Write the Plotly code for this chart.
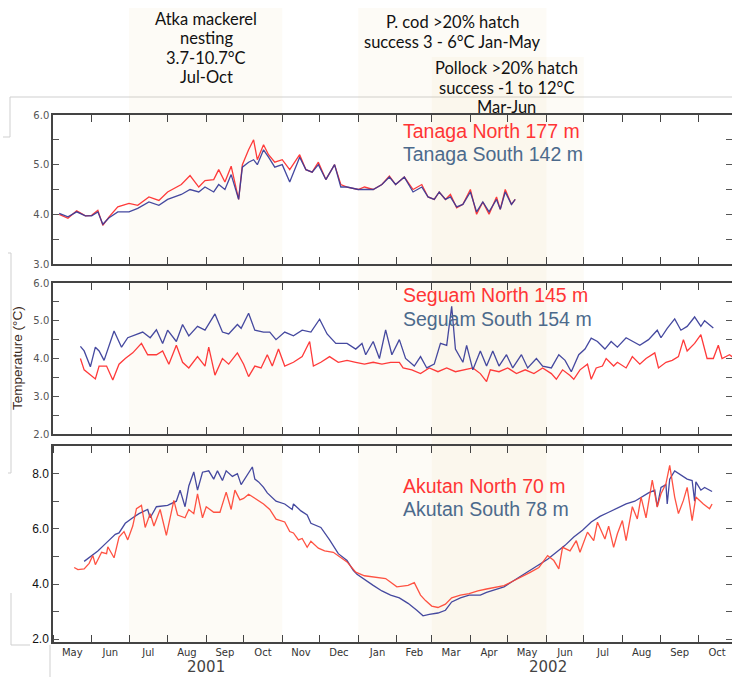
import plotly.graph_objects as go
import pandas as pd

# ---------------- data ----------------
START = "2001-06-01"          # day 0 of the day-offset arrays
X_RANGE = ["2001-05-01", "2002-10-28"]

tanaga_days = [-26, -19, -12, -5, 0, 5, 9, 14, 21, 30, 37, 46, 54, 61, 72, 79, 86, 91, 98, 102,
               107, 112, 118, 121, 126, 130, 133, 138, 142, 147, 153, 159, 167, 172, 177, 182, 188, 195, 200, 205,
               214, 219, 226, 233, 239, 244, 251, 258, 265, 270, 275, 279, 284, 288, 293, 298, 304, 309, 314, 319,
               325, 328, 332, 337, 340]
tanaga_north = [4.0, 3.92, 4.07, 3.97, 3.98, 4.08, 3.78, 3.95, 4.15, 4.22, 4.18, 4.35, 4.28, 4.45, 4.6, 4.78, 4.55, 4.68, 4.7, 4.9,
                4.65, 4.97, 4.3, 5.0, 5.3, 5.5, 5.1, 5.4, 5.2, 5.05, 5.1, 4.9, 5.2, 4.9, 4.85, 5.05, 4.7, 5.0, 4.6, 4.55,
                4.5, 4.55, 4.5, 4.6, 4.77, 4.6, 4.75, 4.5, 4.6, 4.35, 4.3, 4.45, 4.3, 4.4, 4.13, 4.2, 4.5, 4.0, 4.25, 4.0,
                4.35, 4.1, 4.5, 4.2, 4.3]
tanaga_south = [4.02, 3.95, 4.05, 3.97, 3.97, 4.05, 3.8, 3.93, 4.05, 4.05, 4.12, 4.25, 4.18, 4.3, 4.4, 4.5, 4.45, 4.55, 4.45, 4.6,
                4.5, 4.8, 4.3, 4.95, 5.05, 5.1, 5.0, 5.3, 5.15, 4.95, 5.0, 4.65, 5.15, 4.9, 4.85, 5.0, 4.7, 5.0, 4.55, 4.55,
                4.5, 4.5, 4.5, 4.6, 4.75, 4.6, 4.75, 4.45, 4.55, 4.35, 4.3, 4.45, 4.3, 4.35, 4.15, 4.2, 4.45, 4.05, 4.25, 4.05,
                4.3, 4.1, 4.45, 4.2, 4.3]

seguam_north_days = [-9, -6, 3, 6, 12, 17, 22, 27, 33, 40, 45, 52, 57, 62, 68, 73, 78, 85, 91, 94,
                     99, 105, 110, 117, 122, 126, 131, 136, 141, 145, 150, 155, 162, 169, 175, 178, 184, 191, 198, 205,
                     212, 219, 226, 233, 240, 247, 250, 257, 264, 271, 278, 285, 292, 299, 306, 312, 317, 320, 327, 334,
                     341, 348, 355, 362, 369, 373, 378, 384, 387, 392, 398, 401, 405, 410, 413, 419, 422, 429, 434, 440,
                     445, 452, 455, 461, 466, 471, 475, 478, 484, 489, 494, 499, 503, 506, 512, 516]
seguam_north = [4.0, 3.7, 3.46, 3.8, 3.8, 3.43, 3.85, 4.0, 4.15, 4.4, 4.1, 4.1, 4.2, 3.85, 4.35, 3.9, 3.75, 4.05, 3.8, 4.3,
                3.56, 4.0, 3.85, 4.15, 3.85, 3.52, 3.8, 3.75, 4.1, 3.8, 4.25, 3.8, 3.9, 4.05, 4.45, 3.8, 3.9, 4.05, 3.9, 3.95,
                3.9, 3.85, 3.9, 3.85, 3.9, 3.9, 3.75, 3.7, 3.6, 3.75, 3.65, 3.75, 3.65, 3.7, 3.75, 3.6, 3.39, 3.7, 3.65, 3.75,
                3.6, 3.7, 3.6, 3.75, 3.6, 3.45, 3.7, 3.55, 3.45, 3.7, 3.85, 3.45, 3.75, 3.8, 4.0, 3.8, 3.9, 3.75, 4.05, 3.85,
                4.0, 4.15, 3.75, 3.9, 3.95, 4.05, 4.5, 4.2, 4.4, 4.63, 4.0, 4.0, 4.35, 4.0, 4.1, 4.0]

seguam_south_days = [-9, -6, -1, 3, 6, 10, 18, 24, 29, 36, 41, 47, 52, 57, 61, 68, 73, 78, 85, 91,
                     99, 105, 110, 117, 120, 126, 131, 138, 143, 148, 155, 162, 169, 176, 183, 189, 196, 205, 212, 217,
                     220, 226, 231, 236, 241, 247, 252, 259, 264, 269, 275, 280, 285, 289, 292, 298, 301, 306, 312, 317,
                     322, 327, 333, 338, 345, 350, 357, 362, 369, 375, 380, 385, 391, 396, 401, 406, 412, 417, 422, 429,
                     434, 440, 447, 454, 457, 462, 468, 473, 478, 484, 489, 492, 499]
seguam_south = [4.32, 4.2, 3.78, 4.3, 4.2, 3.95, 4.73, 4.3, 4.55, 4.63, 4.7, 4.55, 4.76, 4.4, 4.75, 4.45, 4.9, 4.6, 4.85, 4.75,
                5.18, 4.7, 4.65, 4.9, 4.8, 5.2, 4.75, 4.7, 4.7, 4.5, 4.7, 4.6, 4.75, 4.7, 5.04, 4.65, 4.4, 4.4, 4.25, 4.4,
                4.1, 4.45, 4.0, 4.76, 4.1, 4.5, 4.0, 3.8, 4.05, 3.75, 3.85, 4.4, 4.35, 5.38, 4.25, 3.9, 4.35, 3.7, 4.2, 3.8,
                4.2, 3.8, 4.1, 3.75, 4.1, 3.75, 4.0, 3.8, 3.75, 4.1, 3.95, 3.65, 4.1, 4.25, 4.54, 4.45, 4.25, 4.45, 4.3, 4.55,
                4.45, 4.35, 4.5, 4.75, 4.55, 4.8, 5.05, 4.75, 4.85, 5.1, 4.85, 5.0, 4.81]

akutan_north_days = [-14, -11, -6, -2, 1, 3, 8, 12, 13, 18, 22, 26, 29, 33, 36, 40, 43, 47, 50, 55,
                     60, 66, 69, 75, 78, 82, 85, 89, 92, 98, 103, 108, 112, 115, 119, 122, 126, 131, 138, 143,
                     148, 155, 159, 162, 166, 169, 173, 176, 182, 187, 194, 205, 212, 219, 226, 236, 245, 254, 259, 264,
                     268, 273, 278, 284, 289, 296, 303, 310, 317, 324, 331, 338, 345, 352, 359, 366, 371, 375, 378, 384,
                     389, 392, 398, 403, 406, 412, 415, 419, 422, 426, 429, 434, 438, 441, 445, 450, 454, 457, 461, 464,
                     468, 471, 475, 478, 482, 485, 491, 496, 498]
akutan_north = [4.6, 4.52, 4.55, 4.75, 5.03, 4.7, 5.15, 5.1, 5.35, 4.95, 5.7, 5.9, 5.6, 6.1, 6.73, 6.85, 6.05, 6.55, 6.1, 6.7,
                5.76, 7.03, 6.5, 6.4, 6.7, 6.55, 7.27, 6.4, 6.8, 6.6, 6.6, 7.33, 6.7, 7.4, 7.05, 7.1, 7.25, 7.1, 6.9, 6.7,
                6.35, 6.25, 5.9, 5.85, 5.6, 5.65, 5.33, 5.55, 5.3, 5.2, 5.15, 4.8, 4.43, 4.3, 4.25, 4.2, 3.9, 3.95, 4.05, 3.6,
                3.4, 3.2, 3.15, 3.27, 3.5, 3.6, 3.65, 3.75, 3.82, 3.87, 3.94, 4.1, 4.25, 4.42, 4.6, 5.03, 4.85, 4.55, 5.33, 5.2,
                5.57, 5.15, 5.88, 5.57, 6.24, 5.63, 6.1, 5.33, 5.82, 6.3, 5.57, 6.8, 6.36, 7.15, 6.4, 7.76, 6.79, 7.27, 7.64, 8.3,
                7.15, 6.55, 7.03, 7.5, 6.3, 7.15, 6.9, 6.73, 6.9]

akutan_south_days = [-6, -1, 5, 12, 19, 22, 27, 33, 38, 45, 47, 52, 61, 68, 71, 75, 78, 82, 85, 89,
                     94, 98, 101, 105, 108, 113, 117, 120, 126, 129, 131, 134, 138, 141, 148, 155, 161, 162, 168, 173,
                     176, 184, 191, 198, 205, 210, 213, 219, 226, 233, 240, 247, 254, 261, 266, 271, 278, 284, 289, 296,
                     303, 312, 317, 324, 331, 338, 345, 352, 359, 366, 373, 380, 387, 394, 401, 408, 415, 422, 429, 436,
                     443, 447, 452, 454, 457, 461, 462, 464, 468, 473, 478, 482, 484, 485, 489, 492, 498]
akutan_south = [4.82, 5.0, 5.2, 5.5, 5.8, 5.85, 6.2, 6.4, 6.55, 6.7, 6.4, 6.8, 6.85, 7.0, 7.4, 6.8, 7.55, 8.06, 7.4, 8.05,
                8.1, 7.8, 8.1, 7.75, 8.1, 7.9, 8.0, 7.6, 8.05, 8.24, 7.8, 7.7, 7.5, 7.3, 7.0, 6.9, 6.7, 6.9, 6.65, 6.5,
                6.2, 6.05, 5.6, 5.1, 4.85, 4.5, 4.35, 4.15, 3.95, 3.75, 3.6, 3.5, 3.3, 3.05, 2.85, 2.9, 2.95, 3.05, 3.35, 3.5,
                3.6, 3.6, 3.7, 3.8, 3.9, 4.1, 4.3, 4.5, 4.7, 4.9, 5.15, 5.4, 5.7, 5.95, 6.25, 6.45, 6.6, 6.75, 6.9, 7.0,
                7.2, 7.3, 7.4, 6.8, 7.5, 7.6, 6.9, 7.8, 8.1, 7.95, 7.8, 7.75, 7.0, 7.7, 7.4, 7.5, 7.35]

# spawning / hatching windows: (start, end)
atka_window = ("2001-07-01", "2001-11-01")
pcod_window = ("2002-01-01", "2002-06-01")
pollock_window = ("2002-03-01", "2002-07-01")

atka_text = ["Atka mackerel", "nesting", "3.7-10.7°C", "Jul-Oct"]
pcod_text = ["P. cod >20% hatch", "success 3 - 6°C Jan-May"]
pollock_text = ["Pollock >20% hatch", "success -1 to 12°C", "Mar-Jun"]

# ---------------- helpers ----------------
W, H = 732, 677
ML, MB = 53, 35
PW, PH = W - ML, H - MB


def dates(days):
    base = pd.Timestamp(START)
    return [(base + pd.Timedelta(days=int(d))).strftime("%Y-%m-%d") for d in days]


def px(xp):
    return (xp - ML) / PW


def py(yp):
    return (PH - yp) / PH


RED = "#ff2a2a"
RED3 = "#ff4433"
BLUE = "#363a98"
TXT_RED = "#ff3535"
TXT_BLUE = "#4c6a8c"

fig = go.Figure()


def line(x, y, ax, color):
    fig.add_trace(go.Scatter(x=x, y=y, mode="lines", xaxis="x" + ax, yaxis="y" + ax,
                             line=dict(color=color, width=1.3), opacity=0.92,
                             showlegend=False, hoverinfo="skip"))


line(dates(tanaga_days), tanaga_north, "", RED)
line(dates(tanaga_days), tanaga_south, "", BLUE)
line(dates(seguam_north_days), seguam_north, "2", RED)
line(dates(seguam_south_days), seguam_south, "2", BLUE)
line(dates(akutan_south_days), akutan_south, "3", BLUE)
line(dates(akutan_north_days), akutan_north, "3", RED3)

# ---------------- axes ----------------
xcommon = dict(type="date", range=X_RANGE, dtick="M1", tick0="2001-05-01",
               ticks="inside", ticklen=7, tickwidth=1.3, tickcolor="#444",
               showline=True, linecolor="#444", linewidth=1.5, mirror="ticks",
               showgrid=False, zeroline=False, showticklabels=False, automargin=False)
ycommon = dict(ticks="inside", ticklen=6, tickwidth=1.3, tickcolor="#555",
               showline=True, linecolor="#444", linewidth=1.5, mirror="ticks",
               showgrid=False, zeroline=False, tickmode="array", automargin=False)


def halfticks(lo, hi):
    vals, txt = [], []
    v = lo
    while v <= hi + 1e-9:
        vals.append(round(v, 1))
        txt.append(f"{v:.1f}" if abs(v - round(v)) < 1e-9 else "")
        v += 0.5
    return vals, txt


y1v, y1t = halfticks(3.0, 6.0)
y2v, y2t = halfticks(2.0, 6.0)
y3v = [2, 3, 4, 5, 6, 7, 8]
y3t = ["2.0", "", "4.0", "", "6.0", "", "8.0"]

grey_font = dict(family="DejaVu Sans", size=10, color="#555")

fig.update_layout(
    width=W, height=H, autosize=False,
    margin=dict(l=ML, r=0, t=0, b=MB, autoexpand=False),
    paper_bgcolor="white", plot_bgcolor="rgba(0,0,0,0)",
    template="none",
    xaxis=dict(xcommon, anchor="y"),
    xaxis2=dict(xcommon, anchor="y2", matches="x"),
    xaxis3=dict(xcommon, anchor="y3", matches="x", showticklabels=True,
                tickformat="%b", ticklabelmode="period",
                tickfont=dict(family="DejaVu Sans", size=10, color="#333")),
    yaxis=dict(ycommon, anchor="x", domain=[py(264), py(115)], range=[3, 6],
               tickvals=y1v, ticktext=y1t, tickfont=grey_font),
    yaxis2=dict(ycommon, anchor="x2", domain=[py(434), py(283)], range=[2, 6],
                tickvals=y2v, ticktext=y2t, tickfont=grey_font),
    yaxis3=dict(ycommon, anchor="x3", domain=[0, py(446)], range=[1.9, 9.0],
                tickvals=y3v, ticktext=y3t,
                tickfont=dict(family="Liberation Sans", size=12, color="#111")),
)

# ---------------- shapes ----------------
shapes = []
# faint leftover frame lines of the pasted source figures
for (x0, y0, x1, y1) in [(10, 97, 732, 97), (10, 97, 10, 137), (3, 137, 10, 137),
                         (8, 253, 11, 253), (11, 253, 11, 473), (8, 473, 11, 473),
                         (11, 593, 11, 645), (11, 645, 30, 645), (50, 645, 50, 677)]:
    shapes.append(dict(type="line", xref="paper", yref="paper",
                       x0=px(x0), x1=px(x1), y0=py(y0), y1=py(y1),
                       line=dict(color="#cfcfcf", width=1), layer="below"))
fill = "rgba(235,205,150,0.085)"
for (w, top) in [(atka_window, 8), (pcod_window, 8), (pollock_window, 57)]:
    shapes.append(dict(type="rect", xref="x", yref="paper", x0=w[0], x1=w[1],
                       y0=0, y1=py(top), fillcolor=fill, line=dict(width=0), layer="below"))
fig.update_layout(shapes=shapes)

# ---------------- annotations ----------------
ann = []
top_font = dict(family="Lato", size=16.5, color="#111")
for lines, cx, ys in [(atka_text, 206, [19, 38.5, 58, 77]),
                      (pcod_text, 452, [22, 42]),
                      (pollock_text, 506, [68, 87.5, 107])]:
    for t, yy in zip(lines, ys):
        ann.append(dict(text=t, x=px(cx), y=py(yy), font=top_font))

leg_font = 19.5
for (t, c, yy) in [("Tanaga North 177 m", TXT_RED, 131), ("Tanaga South 142 m", TXT_BLUE, 154),
                   ("Seguam North 145 m", TXT_RED, 295), ("Seguam South 154 m", TXT_BLUE, 319),
                   ("Akutan North 70 m", TXT_RED, 486), ("Akutan South 78 m", TXT_BLUE, 509)]:
    ann.append(dict(text=t, x=px(401), y=py(yy), xanchor="left",
                    font=dict(family="Liberation Sans", size=leg_font, color=c)))

ann.append(dict(text="Temperature (°C)", x=px(18), y=py(358), textangle=-90,
                font=dict(family="Liberation Sans", size=13.5, color="#3a2a1a")))
ann.append(dict(text="2001", x=px(206), y=py(667),
                font=dict(family="DejaVu Sans", size=15, color="#444")))
ann.append(dict(text="2002", x=px(548), y=py(667),
                font=dict(family="DejaVu Sans", size=15, color="#444")))

for a in ann:
    a.setdefault("xanchor", "center")
    a.setdefault("yanchor", "middle")
    a.update(xref="paper", yref="paper", showarrow=False)
fig.update_layout(annotations=ann)

fig.write_html("out.html", config={"displayModeBar": False},
               post_script="document.body.style.margin='0px';"
                           "document.body.style.overflow='hidden';"
                           "document.documentElement.style.overflow='hidden';")
